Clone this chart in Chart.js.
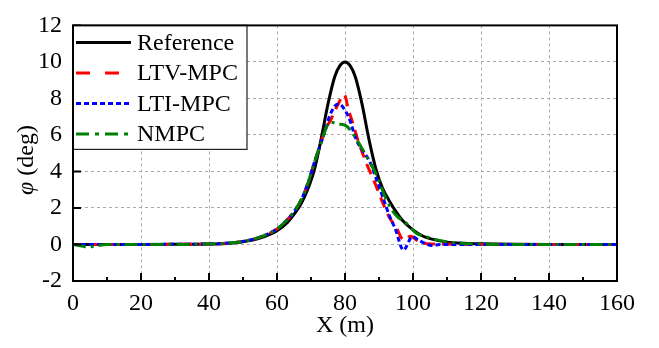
<!DOCTYPE html>
<html>
<head>
<meta charset="utf-8">
<script src="https://cdn.jsdelivr.net/npm/chart.js@4"></script>
<style>
  body { margin: 0; background: #fff; }
  #wrap { width: 659px; height: 348px; }
</style>
</head>
<body>
<div id="wrap"><canvas id="phiChart" width="659" height="348"></canvas></div>
<script>
// reference heading angle
const refX = [0, 10, 20, 30, 40, 45, 50, 55, 60, 63, 65, 67, 69, 71, 73, 75, 77, 78.5, 80, 81.5, 83, 85, 87, 89, 91, 93, 95, 97, 100, 103, 105, 110, 115, 120, 130, 140, 150, 160];
const refY = [0, 0, 0, 0.01, 0.03, 0.06, 0.15, 0.35, 0.75, 1.2, 1.65, 2.2, 3.0, 4.1, 5.8, 7.7, 9.2, 9.8, 10, 9.8, 9.2, 7.7, 5.8, 4.2, 3.1, 2.4, 1.8, 1.3, 0.8, 0.45, 0.32, 0.13, 0.07, 0.04, 0.01, 0, 0, 0];

// LTV-MPC
const ltvX = [0, 10, 20, 30, 40, 45, 50, 55, 60, 63, 65, 67, 69, 71, 73, 74, 76, 78, 79.8, 81, 82.2, 84, 86.4, 88.5, 91.3, 93, 95, 97.3, 99.3, 101, 103, 106, 110, 120, 130, 140, 150, 160];
const ltvY = [0, 0, 0, 0.01, 0.03, 0.07, 0.17, 0.4, 0.85, 1.35, 1.8, 2.4, 3.3, 4.5, 5.6, 6.2, 6.9, 7.7, 8.2, 7.4, 6.7, 5.6, 4.4, 3.5, 2.2, 1.5, 0.95, 0.25, 0.45, 0.25, 0.08, 0.03, 0.02, 0, 0, 0, 0, 0];

// LTI-MPC
const ltiX = [0, 10, 20, 30, 40, 45, 50, 55, 60, 63, 65, 67, 69, 71, 73, 74.1, 75.6, 78, 81, 83.4, 85, 87.4, 89, 91.3, 93, 94.7, 97.2, 99.8, 102, 105.5, 108, 120, 130, 140, 150, 160];
const ltiY = [0, 0, 0, 0.01, 0.03, 0.07, 0.17, 0.4, 0.85, 1.35, 1.8, 2.4, 3.3, 4.5, 5.6, 6.2, 7.1, 7.7, 7.0, 5.7, 5.2, 4.5, 3.7, 2.5, 1.6, 0.9, -0.3, 0.42, 0.2, -0.05, 0, 0, 0, 0, 0, 0];

// NMPC
const nmpcX = [0, 3, 4.5, 6, 10, 20, 30, 40, 45, 50, 55, 60, 63, 65, 67, 69, 71, 73, 74.5, 75.6, 78, 80.3, 82.9, 86.4, 89.3, 92.3, 95, 98.1, 101, 104.5, 108, 112.8, 120, 130, 140, 150, 160];
const nmpcY = [0, -0.1, -0.15, -0.1, 0, 0, 0, 0.03, 0.07, 0.17, 0.4, 0.85, 1.35, 1.8, 2.4, 3.3, 4.5, 5.6, 6.4, 6.7, 6.6, 6.5, 5.9, 4.8, 3.8, 2.4, 1.6, 1.16, 0.62, 0.39, 0.21, 0.09, 0.02, 0, 0, 0, 0];

const xMin = 0, xMax = 160, xStep = 20;
const yMin = -2, yMax = 12, yStep = 2;

const serif = '"Liberation Serif", "Times New Roman", serif';

function toPoints(xs, ys) {
    return xs.map((x, i) => ({ x: x, y: ys[i] }));
}

// frame, inward ticks, legend box and axis titles
const decorPlugin = {
    id: 'decor',
    afterDraw(chart) {
        const ctx = chart.ctx;
        const area = chart.chartArea;
        const xs = chart.scales.x;
        const ys = chart.scales.y;
        ctx.save();

        // inward ticks
        ctx.strokeStyle = '#000';
        ctx.lineWidth = 2;
        ctx.beginPath();
        xs.ticks.forEach(t => {
            const px = xs.getPixelForValue(t.value);
            ctx.moveTo(px, area.bottom);
            ctx.lineTo(px, area.bottom - 8);
            const mid = t.value + xStep / 2;
            if (mid < xMax) {
                const pm = xs.getPixelForValue(mid);
                ctx.moveTo(pm, area.bottom);
                ctx.lineTo(pm, area.bottom - 4);
            }
        });
        ys.ticks.forEach(t => {
            const py = ys.getPixelForValue(t.value);
            ctx.moveTo(area.left, py);
            ctx.lineTo(area.left + 8, py);
        });
        ctx.stroke();

        // legend
        const lx = area.left, ly = area.top;
        const lw = 174, lh = 124;
        ctx.fillStyle = '#fff';
        ctx.fillRect(lx, ly, lw, lh);
        ctx.lineWidth = 1.2;
        ctx.strokeStyle = '#222';
        ctx.strokeRect(lx, ly, lw, lh);
        ctx.font = '24px ' + serif;
        ctx.textBaseline = 'middle';
        ctx.textAlign = 'left';
        chart.data.datasets.forEach((ds, i) => {
            const y = ly + 17 + i * 30.5;
            ctx.save();
            ctx.strokeStyle = ds.borderColor;
            ctx.lineWidth = 3;
            ctx.setLineDash(ds.legendDash || []);
            ctx.beginPath();
            ctx.moveTo(lx + 3, y);
            ctx.lineTo(lx + 58, y);
            ctx.stroke();
            ctx.restore();
            ctx.fillStyle = '#000';
            ctx.fillText(ds.label, lx + 64, y + 1);
        });

        // frame
        ctx.lineWidth = 2;
        ctx.strokeStyle = '#000';
        ctx.setLineDash([]);
        ctx.strokeRect(area.left, area.top, area.right - area.left, area.bottom - area.top);

        // x title
        ctx.fillStyle = '#000';
        ctx.font = '24px ' + serif;
        ctx.textAlign = 'center';
        ctx.textBaseline = 'middle';
        ctx.fillText('X (m)', (area.left + area.right) / 2, 326);

        // y title, italic phi
        const fItal = 'italic 24px ' + serif;
        const fNorm = '24px ' + serif;
        ctx.font = fItal;
        const w1 = ctx.measureText('φ').width;
        ctx.font = fNorm;
        const w2 = ctx.measureText(' (deg)').width;
        ctx.translate(27, 160);
        ctx.rotate(-Math.PI / 2);
        ctx.textAlign = 'left';
        let sx = -(w1 + w2) / 2;
        ctx.font = fItal;
        ctx.fillText('φ', sx, 0);
        ctx.font = fNorm;
        ctx.fillText(' (deg)', sx + w1, 0);
        ctx.restore();
    }
};

const ctx = document.getElementById('phiChart').getContext('2d');
const phiChart = new Chart(ctx, {
    type: 'line',
    data: {
        datasets: [
            {
                label: 'Reference',
                data: toPoints(refX, refY),
                borderColor: '#000000',
                borderWidth: 3,
                legendDash: [],
                order: 4
            },
            {
                label: 'LTV-MPC',
                data: toPoints(ltvX, ltvY),
                borderColor: '#ff0000',
                borderWidth: 3,
                borderDash: [11, 7],
                legendDash: [14, 15],
                order: 3
            },
            {
                label: 'LTI-MPC',
                data: toPoints(ltiX, ltiY),
                borderColor: '#0000ff',
                borderWidth: 3,
                borderDash: [5, 3],
                legendDash: [5, 3],
                order: 2
            },
            {
                label: 'NMPC',
                data: toPoints(nmpcX, nmpcY),
                borderColor: '#008000',
                borderWidth: 3,
                borderDash: [13, 5, 3, 5],
                legendDash: [13, 6, 4, 6],
                order: 1
            }
        ]
    },
    options: {
        responsive: false,
        animation: false,
        events: [],
        elements: {
            point: { radius: 0 },
            line: { cubicInterpolationMode: 'monotone', fill: false }
        },
        layout: { padding: { top: 19, right: 42, left: 0, bottom: 0 } },
        plugins: {
            legend: { display: false },
            tooltip: { enabled: false }
        },
        scales: {
            x: {
                type: 'linear',
                min: xMin,
                max: xMax,
                ticks: {
                    stepSize: xStep,
                    color: '#000',
                    padding: 8,
                    maxRotation: 0,
                    font: { family: serif, size: 24 }
                },
                grid: { color: '#aaaaaa', lineWidth: 1, drawTicks: false },
                border: { display: false, dash: [3, 3] },
                afterFit(scale) { scale.height = 67; }
            },
            y: {
                type: 'linear',
                min: yMin,
                max: yMax,
                ticks: {
                    stepSize: yStep,
                    color: '#000',
                    padding: 11,
                    font: { family: serif, size: 24 }
                },
                grid: { color: '#aaaaaa', lineWidth: 1, drawTicks: false },
                border: { display: false, dash: [3, 3] },
                afterFit(scale) { scale.width = 73; }
            }
        }
    },
    plugins: [decorPlugin]
});
</script>
</body>
</html>
